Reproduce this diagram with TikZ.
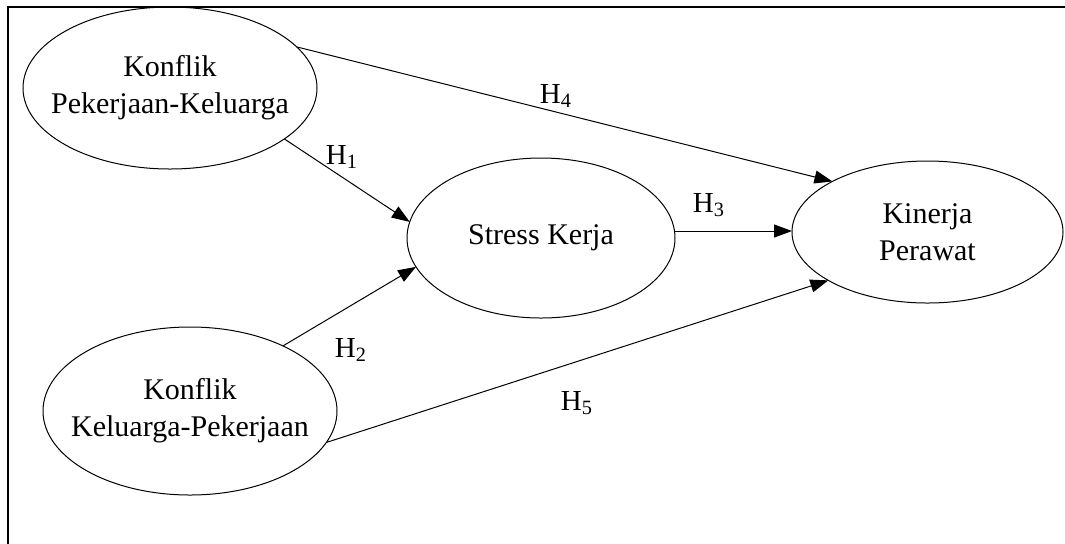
\documentclass[tikz,border=0pt]{standalone}
\usepackage{fontspec}
\setmainfont{Liberation Serif}
\usetikzlibrary{shapes.geometric,arrows.meta}
\begin{document}
\begin{tikzpicture}[x=0.5pt,y=-0.5pt,
  construct/.style={draw,ellipse,line width=0.5pt,inner sep=0pt,outer sep=0pt},
  ctext/.style={align=center,font=\fontsize{15}{18.5}\selectfont,inner sep=0pt},
  path/.style={line width=0.5pt,-{Triangle[length=9pt,width=6.5pt]}},
  hyp/.style={font=\fontsize{14.5}{17}\selectfont,inner sep=0pt},
  frame/.style={line cap=rect}]
\useasboundingbox (0,0) rectangle (1065,543);

% frame lines
\draw[frame,line width=1pt] (8,7) -- (1065,7);
\draw[frame,line width=0.75pt] (8,7) -- (8,543);

% constructs
\node[construct,minimum width=147pt,minimum height=81pt,
      label={[ctext]center:Konflik\\Pekerjaan-Keluarga}] (pk) at (170,88) {};
\node[construct,minimum width=134pt,minimum height=80pt,
      label={[ctext]center:Stress Kerja}] (sk) at (541,238) {};
\node[construct,minimum width=135.5pt,minimum height=71pt,
      label={[ctext]center:Kinerja\\Perawat}] (kp) at (927.5,232) {};
\node[construct,minimum width=147pt,minimum height=84pt,
      label={[ctext]center:Konflik\\Keluarga-Pekerjaan}] (kk) at (190,411) {};

% hypothesised paths
\draw[path] (pk.18.7) -- (kp.152.9);
\draw[path] (pk.-24.3) -- (sk.173.1);
\draw[path] (kk.35.7) -- (sk.-167.2);
\draw[path] (sk.3.9) -- (sk.3.9 -| kp.west);
\draw[path] (kk.-13.5) -- (kp.-154.2);

% path labels
\node[hyp] (h4) at (556,96) {H\textsubscript{4}};
\node[hyp] (h1) at (342,157) {H\textsubscript{1}};
\node[hyp] (h3) at (709,205) {H\textsubscript{3}};
\node[hyp] (h2) at (351,350) {H\textsubscript{2}};
\node[hyp] (h5) at (577,403) {H\textsubscript{5}};
\end{tikzpicture}
\end{document}
